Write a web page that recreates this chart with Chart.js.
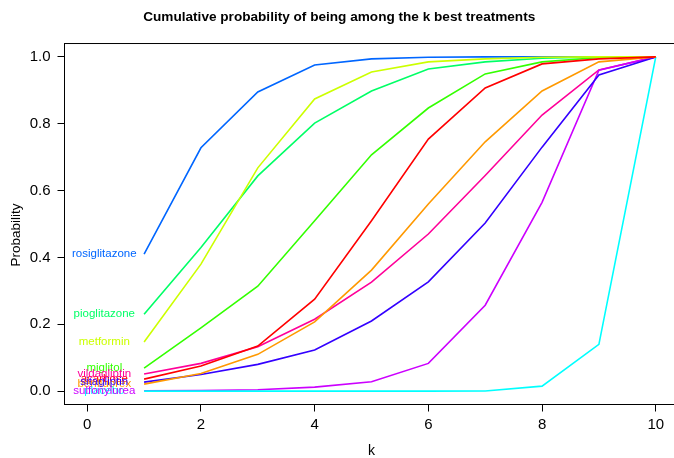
<!DOCTYPE html>
<html>
<head>
<meta charset="utf-8">
<script src="https://cdn.jsdelivr.net/npm/chart.js@4"></script>
<style>
html,body{margin:0;padding:0;background:#fff;overflow:hidden;}
#wrap{width:690px;height:458px;}
</style>
</head>
<body>
<div id="wrap"><canvas id="c" width="690" height="458"></canvas></div>
<script>
const ranks = [1, 2, 3, 4, 5, 6, 7, 8, 9, 10];
const treatments = ["acarbose", "benfluorex", "metformin", "miglitol", "pioglitazone", "placebo", "rosiglitazone", "sitagliptin", "sulfonylurea", "vildagliptin"];
const acarbose      = [0.036, 0.075, 0.135, 0.275, 0.510, 0.754, 0.907, 0.979, 0.994, 1];
const benfluorex    = [0.021, 0.053, 0.110, 0.207, 0.362, 0.560, 0.746, 0.898, 0.985, 1];
const metformin     = [0.147, 0.380, 0.668, 0.874, 0.955, 0.985, 0.994, 0.999, 1, 1];
const miglitol      = [0.069, 0.189, 0.314, 0.510, 0.707, 0.847, 0.949, 0.985, 0.998, 1];
const pioglitazone  = [0.230, 0.430, 0.644, 0.802, 0.898, 0.964, 0.985, 0.996, 1, 1];
const placebo       = [0, 0, 0, 0, 0, 0, 0.0005, 0.015, 0.140, 1];
const rosiglitazone = [0.410, 0.728, 0.895, 0.976, 0.994, 0.999, 1, 1, 1, 1];
const sitagliptin   = [0.027, 0.050, 0.080, 0.123, 0.210, 0.327, 0.503, 0.730, 0.946, 1];
const sulfonylurea  = [0.001, 0.002, 0.004, 0.012, 0.028, 0.083, 0.257, 0.565, 0.960, 1];
const vildagliptin  = [0.051, 0.083, 0.133, 0.215, 0.326, 0.470, 0.645, 0.826, 0.961, 1];
const seriesValues = [acarbose, benfluorex, metformin, miglitol, pioglitazone, placebo, rosiglitazone, sitagliptin, sulfonylurea, vildagliptin];
const colors = ["#FF0000", "#FF9900", "#CCFF00", "#33FF00", "#00FF66", "#00FFFF", "#0066FF", "#3300FF", "#CC00FF", "#FF0099"];
const xTicks = [0, 2, 4, 6, 8, 10];
const yTicks = [0, 0.2, 0.4, 0.6, 0.8, 1.0];
const labelK = 0.3;
const yTitle = 'Probability';

const FONT = "'Liberation Sans', Arial, Helvetica, sans-serif";

const datasets = treatments.map((name, i) => ({
  label: name,
  data: ranks.map((k, j) => ({x: k, y: seriesValues[i][j]})),
  borderColor: colors[i],
  backgroundColor: colors[i],
  borderWidth: 1.6,
  pointRadius: 0,
  tension: 0,
  fill: false
}));

const boxPlugin = {
  id: 'rbox',
  afterDraw(chart) {
    const {ctx, chartArea: a} = chart;
    ctx.save();
    ctx.strokeStyle = '#000';
    ctx.lineWidth = 1;
    ctx.strokeRect(a.left, a.top, a.right - a.left, a.bottom - a.top);
    // y axis title (R ylab)
    ctx.font = "13.5px " + FONT;
    ctx.fillStyle = '#000';
    ctx.textAlign = 'center';
    ctx.textBaseline = 'middle';
    ctx.translate(16, (a.top + a.bottom) / 2 + 11);
    ctx.rotate(-Math.PI / 2);
    ctx.fillText(yTitle, 0, 0);
    ctx.restore();
  }
};

const labelPlugin = {
  id: 'trtLabels',
  afterDatasetsDraw(chart) {
    const {ctx} = chart;
    const xs = chart.scales.x, ys = chart.scales.y;
    ctx.save();
    ctx.font = "11.5px " + FONT;
    ctx.textAlign = 'center';
    ctx.textBaseline = 'middle';
    chart.data.datasets.forEach((ds, i) => {
      ctx.fillStyle = ds.borderColor;
      ctx.fillText(ds.label, xs.getPixelForValue(labelK), ys.getPixelForValue(ds.data[0].y));
    });
    ctx.restore();
  }
};

new Chart(document.getElementById('c'), {
  type: 'line',
  data: {datasets},
  options: {
    responsive: false,
    animation: false,
    events: [],
    layout: {padding: {top: 0, right: 11.5, bottom: 0, left: 0}},
    plugins: {
      legend: {display: false},
      tooltip: {enabled: false},
      title: {
        display: true,
        text: 'Cumulative probability of being among the k best treatments',
        color: '#000',
        font: {family: FONT, size: 13.6, weight: 'bold', lineHeight: 1.2},
        padding: {top: 9, bottom: 18.2}
      }
    },
    scales: {
      x: {
        type: 'linear',
        min: -0.4,
        max: 10.4,
        afterBuildTicks: s => { s.ticks = xTicks.map(v => ({value: v})); },
        afterFit: s => { s.height = 53.5; },
        ticks: {color: '#000', font: {family: FONT, size: 15}, padding: 4, maxRotation: 0, autoSkip: false,
                callback: v => String(v)},
        grid: {display: true, drawOnChartArea: false, drawTicks: true, tickLength: 7, color: '#000', lineWidth: 1},
        border: {display: false},
        title: {display: true, text: 'k', color: '#000', font: {family: FONT, size: 14, lineHeight: 1}, padding: {top: 0, bottom: 0}}
      },
      y: {
        type: 'linear',
        min: -0.04,
        max: 1.04,
        afterBuildTicks: s => { s.ticks = yTicks.map(v => ({value: v})); },
        afterFit: s => { s.width = 64.5; },
        ticks: {color: '#000', font: {family: FONT, size: 15}, padding: 7, autoSkip: false,
                callback: v => v.toFixed(1)},
        grid: {display: true, drawOnChartArea: false, drawTicks: true, tickLength: 7, color: '#000', lineWidth: 1},
        border: {display: false},
        title: {display: false}
      }
    }
  },
  plugins: [boxPlugin, labelPlugin]
});
</script>
</body>
</html>
